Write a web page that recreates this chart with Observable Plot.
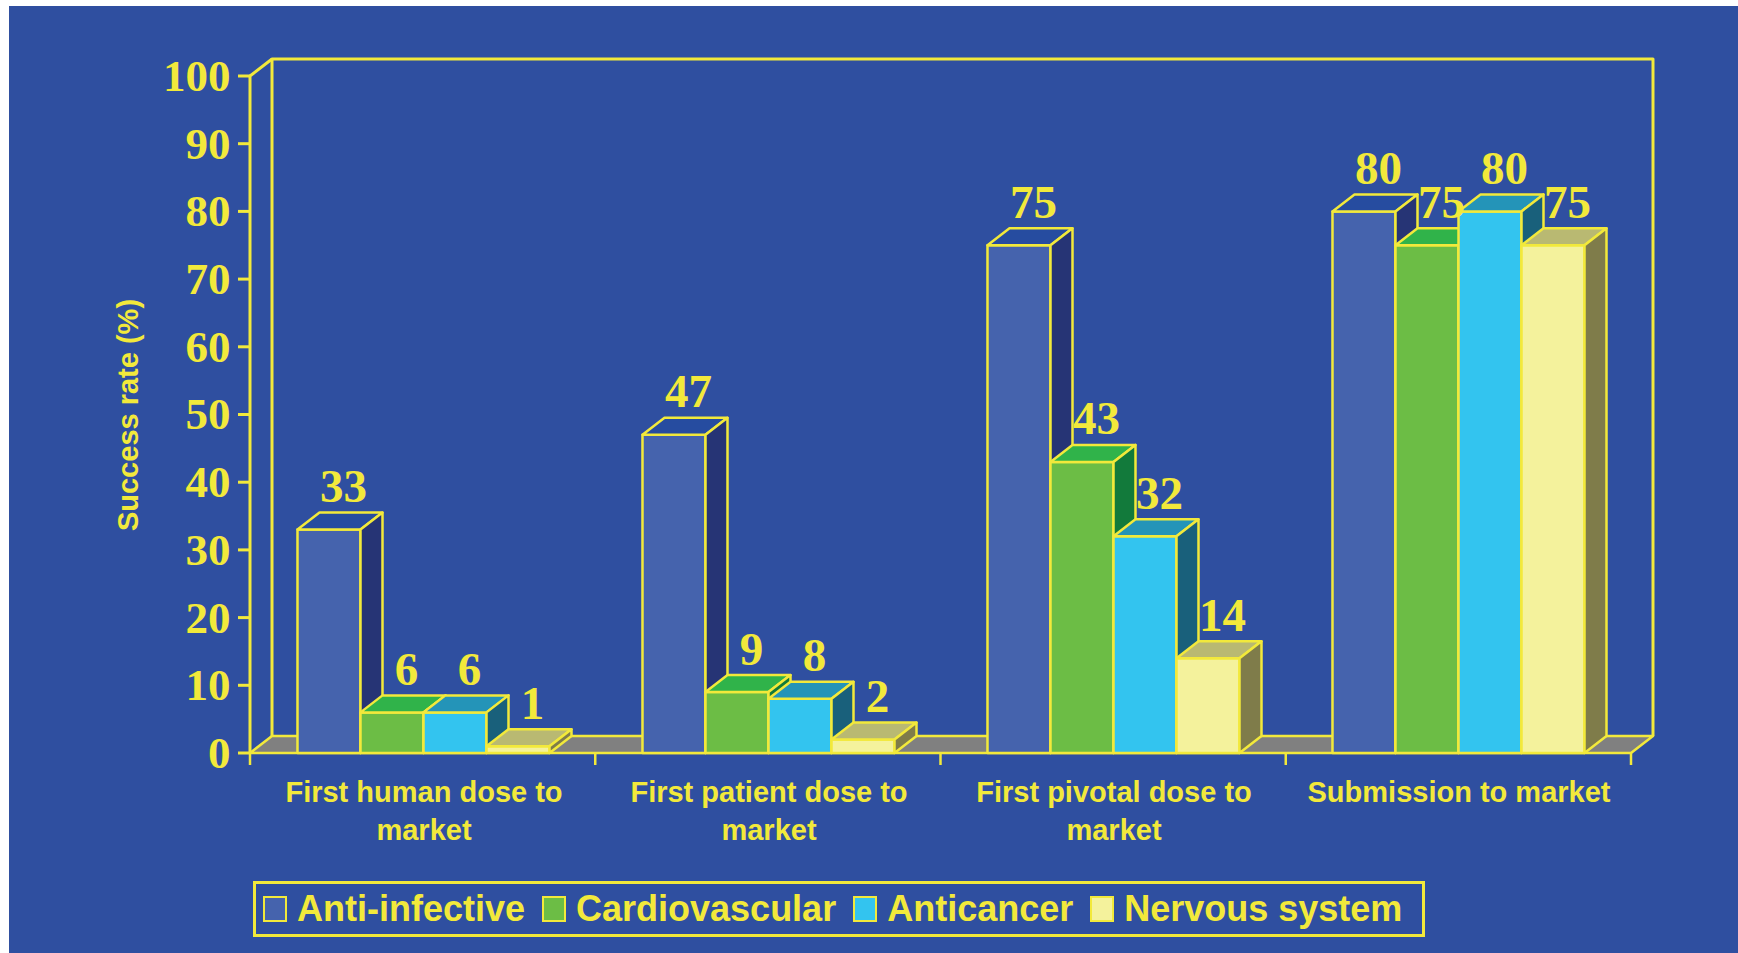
<!DOCTYPE html>
<html>
<head>
<meta charset="utf-8">
<script src="https://cdn.jsdelivr.net/npm/d3@7"></script>
<script src="https://cdn.jsdelivr.net/npm/@observablehq/plot@0.6"></script>
<style>
  html, body { margin: 0; padding: 0; background: #ffffff; }
  #panel { position: absolute; left: 9px; top: 6px; width: 1729px; height: 947px; background: #2f4fa0; overflow: hidden; }
  #legend {
    position: absolute; left: 244px; top: 875px; width: 1172px; height: 56px; box-sizing: border-box;
    border: 3px solid #f2e93b; display: flex; align-items: center; padding-left: 7px;
    font-family: "Liberation Sans", Arial, sans-serif; font-weight: bold; font-size: 36px; line-height: 1; color: #f2e93b;
  }
  #legend .item { display: flex; align-items: center; margin-right: 17px; white-space: nowrap; }
  #legend .swatch { width: 24px; height: 26px; box-sizing: border-box; border: 2px solid #f2e93b; margin-right: 10px; }
</style>
</head>
<body>
<div id="panel">
  <div id="chart"></div>
  <div id="legend"></div>
</div>
<script>
// Development stages (categories) and their axis labels
const stages = [
  "First human dose to market",
  "First patient dose to market",
  "First pivotal dose to market",
  "Submission to market"
];
const stageLabels = [
  "First human dose to\nmarket",
  "First patient dose to\nmarket",
  "First pivotal dose to\nmarket",
  "Submission to market"
];

// Therapeutic areas (series)
const seriesNames = ["Anti-infective", "Cardiovascular", "Anticancer", "Nervous system"];

// Success rate (%) per stage, one array per series
const antiInfective  = [33, 47, 75, 80];
const cardiovascular = [6, 9, 43, 75];
const anticancer     = [6, 8, 32, 80];
const nervousSystem  = [1, 2, 14, 75];

// Y axis ticks
const yTicks = [0, 10, 20, 30, 40, 50, 60, 70, 80, 90, 100];
const yTitle = "Success rate (%)";

// Face colours per series: front, top, side
const frontFill = ["#4563ad", "#6cbd45", "#33c4ef", "#f4f29c"];
const topFill   = ["#264ca0", "#30b34a", "#2494b8", "#b9b972"];
const sideFill  = ["#263475", "#127a3b", "#19607b", "#7f7c4a"];
const yellow = "#f2e93b";
const floorFill = "#808080";

const seriesValues = [antiInfective, cardiovascular, anticancer, nervousSystem];
const rows = seriesValues.flatMap((vals, j) =>
  vals.map((value, i) => ({stage: stages[i], series: seriesNames[j], j, value}))
);

// Layout
const W = 1729, H = 860;
const mLeft = 241, mRight = 107, mTop = 70, mBottom = 113;
const padInner = 0.8175;
const bandStep = (W - mLeft - mRight) / stages.length;
const barW = bandStep * (1 - padInner);
const DX = 22, DY = 17; // depth of the 3D extrusion

const pts = a => a.map(p => p.join(",")).join(" ");

// Back wall, floor, axis lines and ticks
function frame3d(index, scales, values, dims) {
  const g = d3.create("svg:g")
    .attr("fill", "none").attr("stroke", yellow).attr("stroke-linejoin", "round");
  const x0 = dims.marginLeft, x1 = dims.width - dims.marginRight;
  const y0 = scales.y(0), yTop = scales.y(100);
  g.append("polygon")
    .attr("points", pts([[x0, y0], [x1, y0], [x1 + DX, y0 - DY], [x0 + DX, y0 - DY]]))
    .attr("fill", floorFill).attr("stroke-width", 2.5);
  g.append("polyline")
    .attr("points", pts([[x0 + DX, y0 - DY], [x0 + DX, yTop - DY], [x1 + DX, yTop - DY], [x1 + DX, y0 - DY]]))
    .attr("stroke-width", 3);
  g.append("polyline")
    .attr("points", pts([[x0, y0], [x0, yTop], [x0 + DX, yTop - DY]]))
    .attr("stroke-width", 3);
  for (const t of yTicks) {
    g.append("line").attr("x1", x0 - 12).attr("x2", x0)
      .attr("y1", scales.y(t)).attr("y2", scales.y(t)).attr("stroke-width", 3);
  }
  const step = (x1 - x0) / stages.length;
  for (let k = 0; k <= stages.length; k++) {
    g.append("line").attr("x1", x0 + k * step).attr("x2", x0 + k * step)
      .attr("y1", y0).attr("y2", y0 + 12).attr("stroke-width", 2.5);
  }
  return g.node();
}

// Top and side faces of one series' bars
const faces = j => (index, scales) => {
  const g = d3.create("svg:g")
    .attr("stroke", yellow).attr("stroke-width", 2.5).attr("stroke-linejoin", "round");
  const bw = scales.x.bandwidth ? scales.x.bandwidth() : barW;
  const y0 = scales.y(0);
  for (const r of rows.filter(r => r.j === j)) {
    const xl = scales.x(r.stage) + (j - 1.5) * bw;
    const xr = xl + bw;
    const yv = scales.y(r.value);
    g.append("polygon")
      .attr("points", pts([[xl, yv], [xr, yv], [xr + DX, yv - DY], [xl + DX, yv - DY]]))
      .attr("fill", topFill[j]);
    g.append("polygon")
      .attr("points", pts([[xr, yv], [xr + DX, yv - DY], [xr + DX, y0 - DY], [xr, y0]]))
      .attr("fill", sideFill[j]);
  }
  return g.node();
};

const serif = "'Liberation Serif', 'Times New Roman', serif";
const sans = "'Liberation Sans', Arial, sans-serif";

const chart = Plot.plot({
  width: W,
  height: H,
  marginLeft: mLeft,
  marginRight: mRight,
  marginTop: mTop,
  marginBottom: mBottom,
  style: {background: "transparent", color: yellow, overflow: "visible"},
  x: {type: "band", domain: stages, paddingInner: padInner, paddingOuter: padInner / 2, axis: null},
  y: {domain: [0, 100], axis: null},
  marks: [
    frame3d,
    ...seriesNames.flatMap((s, j) => [
      Plot.barY(rows.filter(r => r.j === j), {
        x: "stage", y: "value", dx: (j - 1.5) * barW,
        fill: frontFill[j], stroke: yellow, strokeWidth: 2.5, strokeLinejoin: "round"
      }),
      faces(j)
    ]),
    ...seriesNames.map((s, j) =>
      Plot.text(rows.filter(r => r.j === j), {
        x: "stage", y: "value", text: d => String(d.value),
        dx: (j - 1.5) * barW + 14, dy: -43,
        fontFamily: serif, fontWeight: "bold", fontSize: 47, fill: yellow
      })
    ),
    Plot.text(yTicks, {
      y: d => d, text: d => String(d), frameAnchor: "left", textAnchor: "end", dx: -20,
      fontFamily: serif, fontWeight: "bold", fontSize: 45, fill: yellow
    }),
    Plot.text(stages, {
      x: d => d, text: (d, i) => stageLabels[i], frameAnchor: "bottom", lineAnchor: "top",
      dy: 22, lineHeight: 1.31,
      fontFamily: sans, fontWeight: "bold", fontSize: 29, fill: yellow
    }),
    Plot.text([yTitle], {
      text: d => d, frameAnchor: "left", textAnchor: "middle", rotate: -90, dx: -122,
      fontFamily: sans, fontWeight: "bold", fontSize: 29, fill: yellow
    })
  ]
});
document.getElementById("chart").append(chart);

// Legend
const legend = d3.select("#legend");
seriesNames.forEach((name, j) => {
  const item = legend.append("div").attr("class", "item");
  item.append("div").attr("class", "swatch").style("background", frontFill[j]);
  item.append("span").text(name);
});
</script>
</body>
</html>
